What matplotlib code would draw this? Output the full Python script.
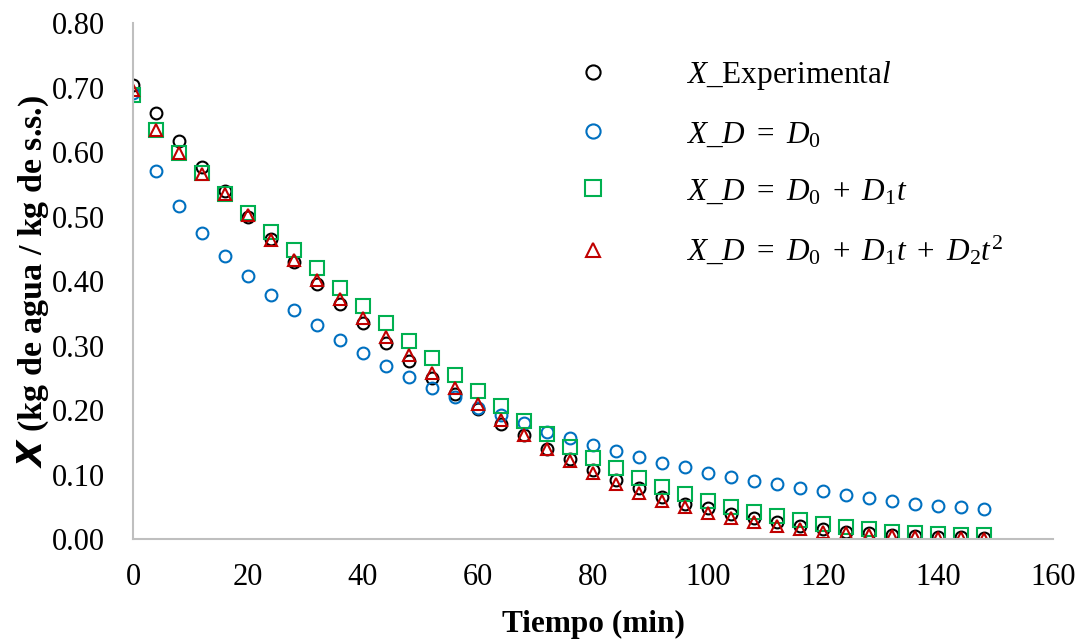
import matplotlib
matplotlib.use("Agg")
import matplotlib.pyplot as plt
from matplotlib.ticker import FormatStrFormatter, MultipleLocator

plt.rcParams["font.family"] = ["Liberation Serif", "DejaVu Serif"]
plt.rcParams["mathtext.fontset"] = "custom"
plt.rcParams["mathtext.rm"] = "Liberation Serif"
plt.rcParams["mathtext.it"] = "Liberation Serif:italic"
plt.rcParams["mathtext.bf"] = "Liberation Serif:bold"

# drying time (min)
tiempo = list(range(0, 149, 4))

x_experimental = [
    0.704, 0.660, 0.617, 0.577, 0.540, 0.500, 0.465, 0.429, 0.395, 0.364,
    0.335, 0.304, 0.276, 0.250, 0.225, 0.201, 0.179, 0.161, 0.139, 0.124,
    0.107, 0.092, 0.079, 0.066, 0.055, 0.048, 0.039, 0.033, 0.027, 0.021,
    0.016, 0.011, 0.009, 0.006, 0.005, 0.004, 0.003, 0.001
]

x_d0 = [
    0.692, 0.571, 0.516, 0.475, 0.439, 0.408, 0.379, 0.355, 0.332, 0.309,
    0.288, 0.269, 0.252, 0.235, 0.220, 0.203, 0.192, 0.180, 0.166, 0.156,
    0.146, 0.136, 0.127, 0.118, 0.111, 0.103, 0.097, 0.090, 0.085, 0.079,
    0.074, 0.069, 0.064, 0.059, 0.055, 0.052, 0.049, 0.046
]

x_d0_d1 = [
    0.688, 0.635, 0.599, 0.567, 0.535, 0.506, 0.476, 0.448, 0.420, 0.390,
    0.362, 0.335, 0.307, 0.280, 0.254, 0.230, 0.206, 0.183, 0.163, 0.143,
    0.126, 0.110, 0.094, 0.081, 0.070, 0.059, 0.050, 0.042, 0.036, 0.029,
    0.024, 0.019, 0.016, 0.011, 0.010, 0.008, 0.006, 0.006
]

x_d0_d1_d2 = [
    0.697, 0.634, 0.598, 0.566, 0.535, 0.502, 0.464, 0.433, 0.402, 0.372,
    0.342, 0.314, 0.285, 0.258, 0.234, 0.209, 0.184, 0.161, 0.139, 0.121,
    0.103, 0.086, 0.072, 0.059, 0.049, 0.040, 0.033, 0.027, 0.021, 0.016,
    0.011, 0.009, 0.006, 0.005, 0.003, 0.002, 0.001, 0.000
]

series = [
    (x_experimental, "o", "#000000", r"$X$_Experimenta$l$"),
    (x_d0, "o", "#0070C0", r"$X\_D\ =\ D_0$"),
    (x_d0_d1, "s", "#00B050", r"$X\_D\ =\ D_0\ +\ D_1t$"),
    (x_d0_d1_d2, "^", "#C00000", r"$X\_D\ =\ D_0\ +\ D_1t\ +\ D_2t^2$"),
]

fig = plt.figure(figsize=(10.84, 6.41), dpi=100)
ax = fig.add_axes([0.1227, 0.159, 0.8487, 0.805])

for values, marker, color, label in series:
    size = 9.5 if marker == "s" else 8.5
    ax.plot(
        tiempo, values,
        linestyle="none",
        marker=marker,
        markersize=size,
        markerfacecolor="none",
        markeredgecolor=color,
        markeredgewidth=1.5,
        label=label
    )

ax.set_xlim(0, 160)
ax.set_ylim(0, 0.80)
ax.xaxis.set_major_locator(MultipleLocator(20))
ax.yaxis.set_major_locator(MultipleLocator(0.10))
ax.yaxis.set_major_formatter(FormatStrFormatter("%.2f"))

ax.tick_params(axis="both", length=0, labelsize=22)
ax.tick_params(axis="x", pad=17)
ax.tick_params(axis="y", pad=20)

for side in ["top", "right"]:
    ax.spines[side].set_visible(False)
for side in ["left", "bottom"]:
    ax.spines[side].set_color("#BFBFBF")
    ax.spines[side].set_linewidth(1.5)

ax.set_xlabel("Tiempo (min)", fontsize=22.5, fontweight="bold", labelpad=13)
ax.set_ylabel(r"$\mathbfit{X}$ (kg de agua / kg de s.s.)",
              fontsize=24.5, fontweight="bold", labelpad=1)

ax.legend(
    loc="upper left",
    bbox_to_anchor=(0.452, 0.985),
    frameon=False,
    fontsize=22.5,
    handlelength=1.0,
    handletextpad=2.5,
    labelspacing=0.9,
    markerscale=1.2
)

fig.savefig("out.png", dpi=100)
